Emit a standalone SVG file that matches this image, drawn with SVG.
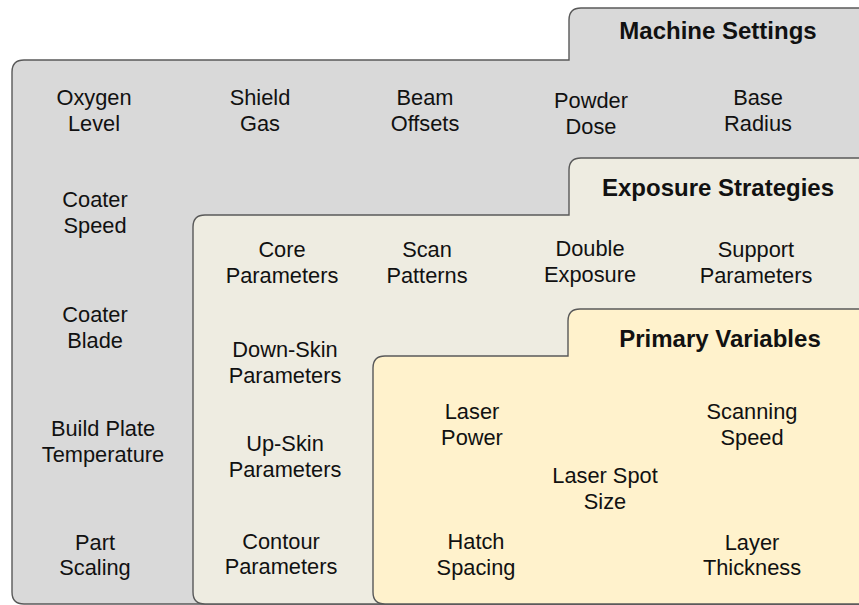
<svg xmlns="http://www.w3.org/2000/svg" width="859" height="605" viewBox="0 0 859 605">
  <style>
    .panel { stroke: #595959; stroke-width: 1.4; }
    .machine { fill: #d9d9d9; }
    .exposure { fill: #eeece1; }
    .primary { fill: #fff2cc; }
    text { font-family: "Liberation Sans", Arial, sans-serif; fill: #111; text-anchor: middle; }
    .item { font-size: 21.8px; }
    .title { font-size: 24px; font-weight: bold; }
  </style>
  <rect width="859" height="605" fill="#ffffff"/>

  <!-- Outer panel: machine settings -->
  <g id="machine-settings">
    <path class="panel machine" d="M 12,591 L 12,72 Q 12,60 24,60 L 569,60 L 569,20 Q 569,8 581,8 L 870,8 L 870,604 L 24,604 Q 12,604 12,592 Z"/>
    <text class="title" x="718" y="39">Machine Settings</text>
    <text class="item" x="94" y="105">Oxygen<tspan x="94" dy="26">Level</tspan></text>
    <text class="item" x="260" y="105">Shield<tspan x="260" dy="26">Gas</tspan></text>
    <text class="item" x="425" y="105">Beam<tspan x="425" dy="26">Offsets</tspan></text>
    <text class="item" x="591" y="108">Powder<tspan x="591" dy="26">Dose</tspan></text>
    <text class="item" x="758" y="105">Base<tspan x="758" dy="26">Radius</tspan></text>
    <text class="item" x="95" y="207">Coater<tspan x="95" dy="26">Speed</tspan></text>
    <text class="item" x="95" y="322">Coater<tspan x="95" dy="26">Blade</tspan></text>
    <text class="item" x="103" y="436">Build Plate<tspan x="103" dy="26">Temperature</tspan></text>
    <text class="item" x="95" y="550">Part<tspan x="95" dy="25">Scaling</tspan></text>
  </g>

  <!-- Middle panel: exposure strategies -->
  <g id="exposure-strategies">
    <path class="panel exposure" d="M 193,592 L 193,227 Q 193,215 205,215 L 569,215 L 569,170 Q 569,158 581,158 L 870,158 L 870,604 L 205,604 Q 193,604 193,592 Z"/>
    <text class="title" x="718" y="196">Exposure Strategies</text>
    <text class="item" x="282" y="257">Core<tspan x="282" dy="26">Parameters</tspan></text>
    <text class="item" x="427" y="257">Scan<tspan x="427" dy="26">Patterns</tspan></text>
    <text class="item" x="590" y="256">Double<tspan x="590" dy="26">Exposure</tspan></text>
    <text class="item" x="756" y="257">Support<tspan x="756" dy="26">Parameters</tspan></text>
    <text class="item" x="285" y="357">Down-Skin<tspan x="285" dy="26">Parameters</tspan></text>
    <text class="item" x="285" y="451">Up-Skin<tspan x="285" dy="26">Parameters</tspan></text>
    <text class="item" x="281" y="549">Contour<tspan x="281" dy="25">Parameters</tspan></text>
  </g>

  <!-- Inner panel: primary variables -->
  <g id="primary-variables">
    <path class="panel primary" d="M 373,592 L 373,368 Q 373,356 385,356 L 568,356 L 568,321 Q 568,309 580,309 L 870,309 L 870,604 L 385,604 Q 373,604 373,592 Z"/>
    <text class="title" x="720" y="347">Primary Variables</text>
    <text class="item" x="472" y="419">Laser<tspan x="472" dy="26">Power</tspan></text>
    <text class="item" x="752" y="419">Scanning<tspan x="752" dy="26">Speed</tspan></text>
    <text class="item" x="605" y="483">Laser Spot<tspan x="605" dy="26">Size</tspan></text>
    <text class="item" x="476" y="549">Hatch<tspan x="476" dy="26">Spacing</tspan></text>
    <text class="item" x="752" y="550">Layer<tspan x="752" dy="25">Thickness</tspan></text>
  </g>

  <g id="connectors"></g>
</svg>
